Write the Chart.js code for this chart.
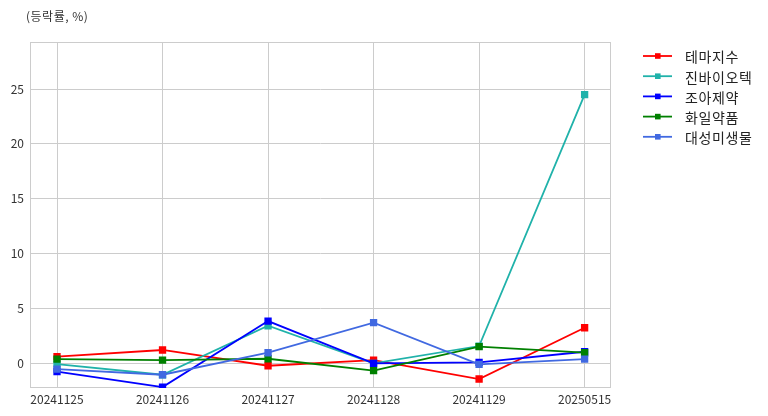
<!DOCTYPE html>
<html>
<head>
<meta charset="utf-8">
<script src="https://cdn.jsdelivr.net/npm/chart.js@4"></script>
<style>
    body { margin: 0; background: #fff; }
    #wrap { width: 768px; height: 416px; }
</style>
</head>
<body>
<div id="wrap"><canvas id="rateChart" width="768" height="416"></canvas></div>
<script>
const dates = ["20241125", "20241126", "20241127", "20241128", "20241129", "20250515"];
const seriesNames = ["테마지수", "진바이오텍", "조아제약", "화일약품", "대성미생물"];
const themeIndex = [0.58, 1.19, -0.25, 0.27, -1.46, 3.22];
const jinBio = [-0.1, -1.07, 3.4, -0.03, 1.55, 24.5];
const joaPharm = [-0.79, -2.2, 3.83, -0.03, 0.06, 1.03];
const hwailPharm = [0.36, 0.27, 0.39, -0.7, 1.49, 0.94];
const daesungMicro = [-0.55, -1.07, 0.94, 3.68, -0.12, 0.36];
const yTicks = [0, 5, 10, 15, 20, 25];

const colors = ["#ff0000", "#20b2aa", "#0000ff", "#008000", "#4169e1"];
const allValues = [themeIndex, jinBio, joaPharm, hwailPharm, daesungMicro];
const FONT = "'Noto Sans CJK KR', 'Noto Sans', sans-serif";

const datasets = allValues.map((vals, i) => ({
    label: seriesNames[i],
    data: vals.map((v, j) => ({ x: j, y: v })),
    borderColor: colors[i],
    backgroundColor: colors[i],
    borderWidth: 1.8,
    pointStyle: 'rect',
    pointRadius: 3.9,
    pointHoverRadius: 3.9,
    tension: 0,
    order: allValues.length - i
}));

// frame, title and legend like the original figure
const extras = {
    id: 'extras',
    beforeDatasetsDraw(chart) {
        const a = chart.chartArea;
        const ctx = chart.ctx;
        ctx.save();
        ctx.strokeStyle = "#cccccc";
        ctx.lineWidth = 1;
        ctx.strokeRect(a.left + 0.5, a.top + 0.5, a.right - a.left - 1, a.bottom - a.top - 1);
        ctx.restore();
    },
    afterDraw(chart) {
        const ctx = chart.ctx;
        ctx.save();
        ctx.fillStyle = "#333";
        ctx.font = "12px " + FONT;
        ctx.letterSpacing = "0.5px";
        ctx.textBaseline = "middle";
        ctx.fillText("(등락률, %)", 26, 16);

        ctx.font = "14px " + FONT;
        ctx.letterSpacing = "0.6px";
        for (let i = 0; i < seriesNames.length; i++) {
            const y = 56 + i * 20.2;
            ctx.strokeStyle = colors[i];
            ctx.lineWidth = 1.8;
            ctx.beginPath();
            ctx.moveTo(643, y);
            ctx.lineTo(672, y);
            ctx.stroke();
            ctx.fillStyle = colors[i];
            ctx.fillRect(655, y - 2.8, 5.6, 5.6);
            ctx.fillStyle = "#222";
            ctx.fillText(seriesNames[i], 685, y + 1);
        }
        ctx.restore();
    }
};

new Chart(document.getElementById("rateChart").getContext("2d"), {
    type: 'line',
    data: { datasets: datasets },
    options: {
        responsive: false,
        animation: false,
        layout: { padding: { top: 42, right: 157, left: 0, bottom: 0 } },
        plugins: { legend: { display: false }, tooltip: { enabled: false } },
        scales: {
            x: {
                type: 'linear',
                min: -0.256,
                max: 5.25,
                afterBuildTicks: s => { s.ticks = dates.map((d, i) => ({ value: i })); },
                afterFit: s => { s.height = 28; },
                ticks: {
                    callback: v => dates[v],
                    color: "#333",
                    font: { family: FONT, size: 12 },
                    padding: 4,
                    maxRotation: 0,
                    autoSkip: false
                },
                grid: { color: "#cccccc", drawTicks: false },
                border: { display: false }
            },
            y: {
                min: -2.28,
                max: 29.3,
                afterBuildTicks: s => { s.ticks = yTicks.map(v => ({ value: v })); },
                afterFit: s => { s.width = 30; },
                ticks: {
                    color: "#333",
                    font: { family: FONT, size: 12 },
                    padding: 6
                },
                grid: { color: "#cccccc", drawTicks: false },
                border: { display: false }
            }
        }
    },
    plugins: [extras]
});
</script>
</body>
</html>
